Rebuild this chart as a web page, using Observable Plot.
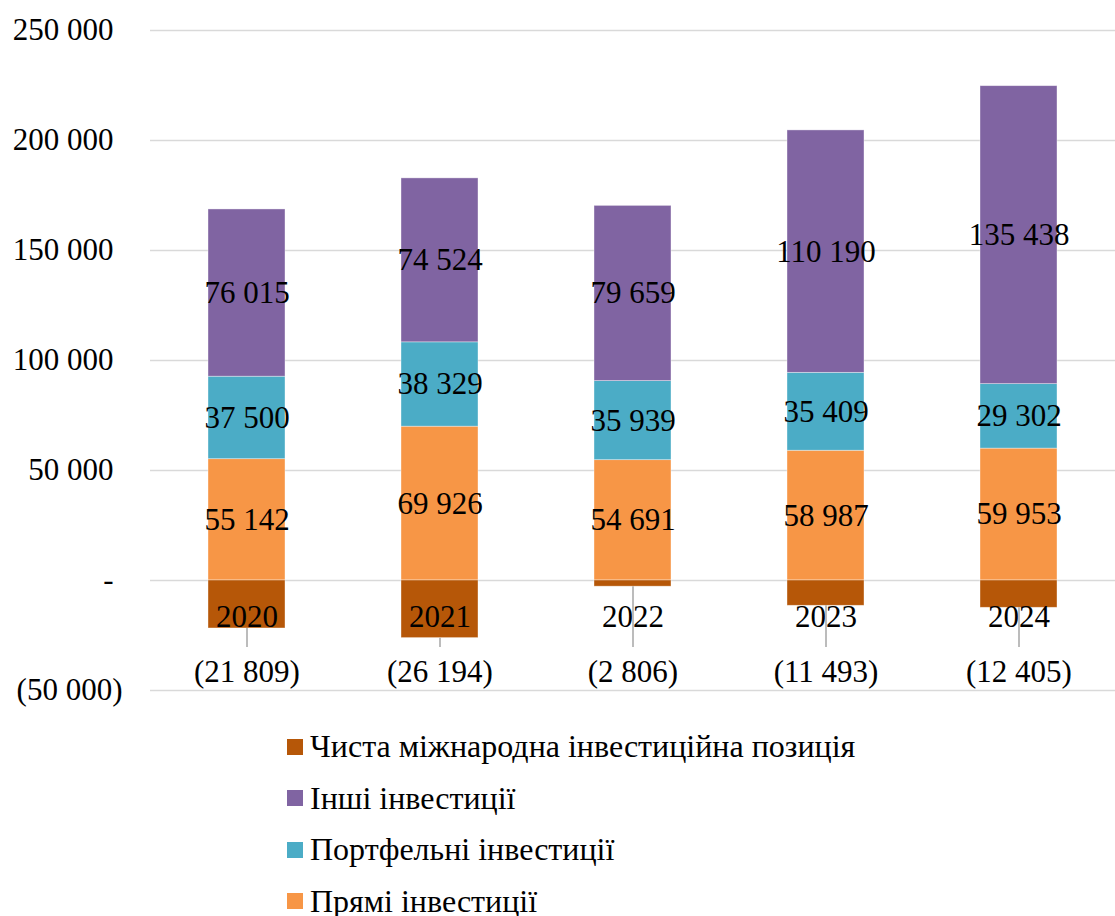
<!DOCTYPE html>
<html>
<head>
<meta charset="utf-8">
<script src="https://cdn.jsdelivr.net/npm/d3@7"></script>
<script src="https://cdn.jsdelivr.net/npm/@observablehq/plot@0.6"></script>
</head>
<body style="margin:0;padding:0;background:#fff;font-family:'Liberation Serif';font-size:31px">
<div id="chart" style="width:1115px"></div>
<script>
// Years and component values (million USD)
const years = ["2020", "2021", "2022", "2023", "2024"];
const seriesNames = [
  "Чиста міжнародна інвестиційна позиція",
  "Інші інвестиції",
  "Портфельні інвестиції",
  "Прямі інвестиції"
];
const netPosition = [-21809, -26194, -2806, -11493, -12405];
const otherInvestment = [76015, 74524, 79659, 110190, 135438];
const portfolioInvestment = [37500, 38329, 35939, 35409, 29302];
const directInvestment = [55142, 69926, 54691, 58987, 59953];
const yTicks = [-50000, 0, 50000, 100000, 150000, 200000, 250000];
const seriesColors = ["#B65708", "#8064A2", "#4BACC6", "#F79646"];

// Long table, stacked bottom-up: direct, portfolio, other; net goes below zero
const rows = [];
years.forEach((year, i) => {
  rows.push({year, series: seriesNames[3], value: directInvestment[i]});
  rows.push({year, series: seriesNames[2], value: portfolioInvestment[i]});
  rows.push({year, series: seriesNames[1], value: otherInvestment[i]});
  rows.push({year, series: seriesNames[0], value: netPosition[i]});
});
const positives = rows.filter(d => d.value >= 0);
const negatives = rows.filter(d => d.value < 0);

const num = v => d3.format(",")(Math.abs(v)).replace(/,/g, " ");
const fmt = v => v === 0 ? "-" : v < 0 ? `(${num(v)})` : num(v);
const textStyle = {fontFamily: "Liberation Serif", fontSize: 31, fill: "#000"};

const chart = Plot.plot({
  width: 1115,
  height: 710,
  marginLeft: 150,
  marginRight: 0,
  marginTop: 30,
  marginBottom: 20,
  style: {fontFamily: "Liberation Serif", fontSize: "31px", color: "#000", background: "#fff"},
  x: {domain: years, paddingInner: 0.6, paddingOuter: 0.3, axis: null},
  y: {domain: [-50000, 250000], axis: null},
  color: {domain: seriesNames, range: seriesColors},
  marks: [
    Plot.gridY(yTicks, {stroke: "#d9d9d9", strokeOpacity: 1, strokeWidth: 1.5}),
    Plot.axisY(yTicks.filter(v => v >= 0), {tickSize: 0, tickPadding: 37, tickFormat: fmt, label: null, ...textStyle}),
    Plot.axisY(yTicks.filter(v => v < 0), {tickSize: 0, tickPadding: 28, tickFormat: fmt, label: null, ...textStyle}),
    Plot.barY(rows, {x: "year", y: "value", fill: "series", stroke: "#fff", strokeOpacity: 0.5, strokeWidth: 0.75}),
    Plot.text(positives, Plot.stackY({x: "year", y: "value", text: d => fmt(d.value), ...textStyle})),
    Plot.text(years, {x: d => d, y: () => 0, dy: 37, text: d => d, ...textStyle}),
    Plot.ruleX(negatives, {x: "year", y1: "value", y2: () => -30500, stroke: "#a6a6a6", strokeWidth: 1.5}),
    Plot.text(negatives, {x: "year", y: () => -41500, text: d => fmt(d.value), ...textStyle})
  ]
});
document.getElementById("chart").appendChild(chart);

// Legend below the plot
const legend = document.createElement("div");
Object.assign(legend.style, {
  marginTop: "11px", paddingLeft: "287px", fontFamily: "Liberation Serif",
  fontSize: "32px", color: "#000"
});
seriesNames.forEach((name, i) => {
  const item = document.createElement("div");
  Object.assign(item.style, {display: "flex", alignItems: "center", height: "51.5px"});
  const sw = document.createElement("span");
  Object.assign(sw.style, {width: "16px", height: "16px", marginRight: "7px", flex: "none", background: seriesColors[i]});
  const label = document.createElement("span");
  label.textContent = name;
  item.appendChild(sw);
  item.appendChild(label);
  legend.appendChild(item);
});
document.body.appendChild(legend);
</script>
</body>
</html>
